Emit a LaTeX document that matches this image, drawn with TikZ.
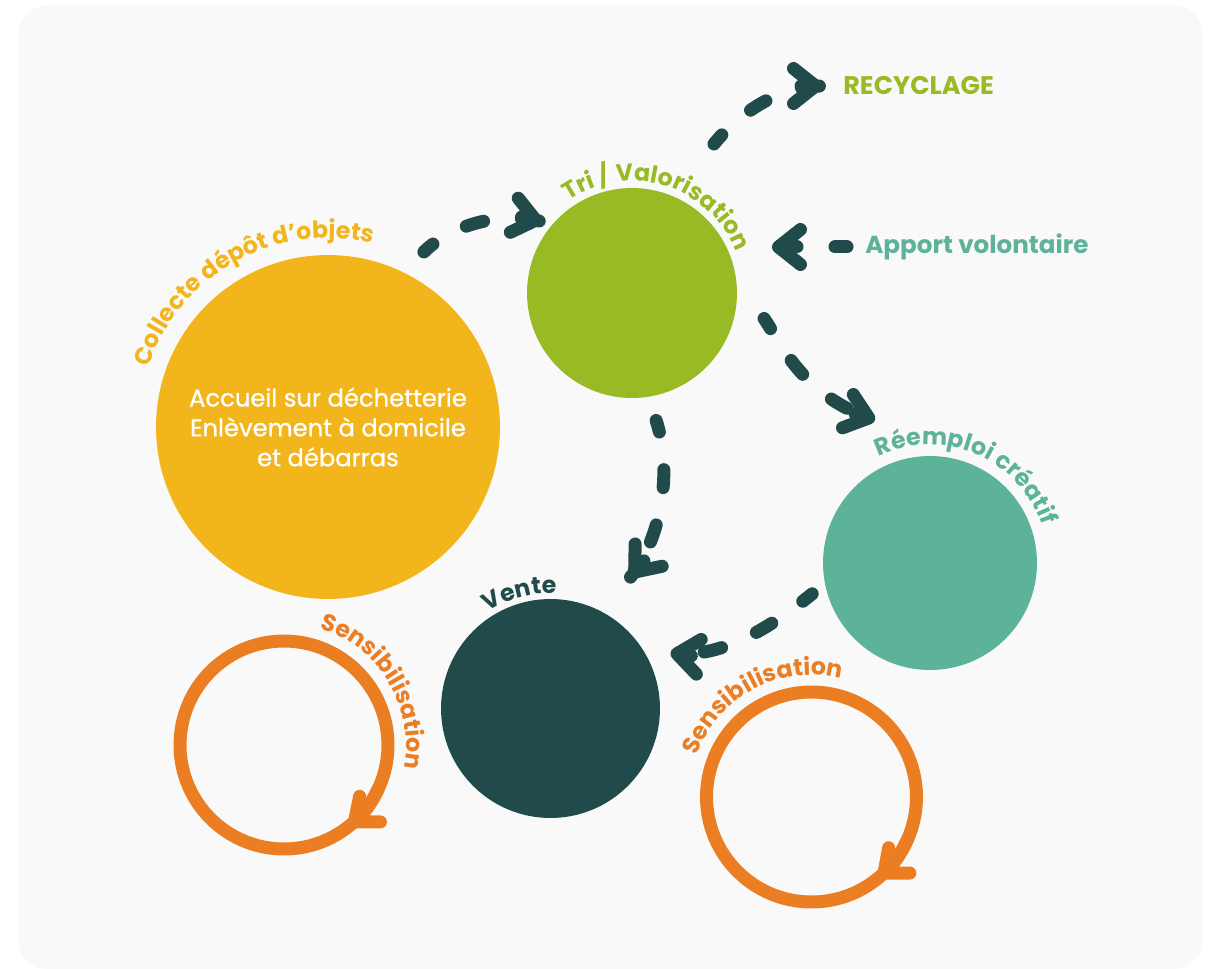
\documentclass[tikz,border=0pt]{standalone}
\usepackage{fontspec}
\setmainfont{Poppins}
\newfontfamily\poppinsmoyen{Poppins}[FakeBold=0.8]
\usepackage{xcolor}
\usepackage{tikz}
\usetikzlibrary{arrows.meta, decorations.text, decorations.markings, calc}
\definecolor{fondgris}{RGB}{249, 249, 249}
\definecolor{collecteor}{RGB}{242, 181, 28}
\definecolor{trivert}{RGB}{152, 186, 37}
\definecolor{reemploivert}{RGB}{93, 178, 154}
\definecolor{ventevert}{RGB}{33, 75, 74}
\definecolor{sensiorange}{RGB}{235, 125, 35}
\newcommand{\arcfont}{\fontsize{13.5}{15}\selectfont\bfseries}

\begin{document}
\begin{tikzpicture}[
  x=0.02cm, y=0.02cm,
  bulle/.style={circle, inner sep=0pt, outer sep=0pt},
  anneau/.style={circle, draw=sensiorange, line width=0.26cm, inner sep=0pt, outer sep=0pt},
  fleche/.style={ventevert, line width=0.26cm, line cap=round,
    dash pattern=on 0.36cm off 0.76cm, dash phase=0.12cm, shorten >=#1,
    postaction={decorate, decoration={markings, mark=at position 0.9999 with {
      \draw[solid, shorten >=0pt, shorten <=0pt, line cap=round,
        -{Straight Barb[length=0.44cm, width=0.7cm, round]}]
        (-#1-0.42cm,0) -- (-#1,0);}}}},
  boucle/.style={sensiorange, line width=0.26cm, line cap=round,
    -{Straight Barb[length=0.4cm, width=0.66cm, round]}},
  etiquette/.style={inner sep=0pt, anchor=west},
  arctexte/.style={decorate, decoration={text along path, text align=center, text={#1}}}
]

% Fond
\useasboundingbox (0,0) rectangle (1213,-969);
\fill[white] (0,0) rectangle (1213,-969);
\fill[fondgris, rounded corners=0.6cm] (18,-5) rectangle (1203,-969);

% Cercles
\node[bulle, fill=collecteor, minimum size=6.88cm, text=white, align=center,
  font=\poppinsmoyen\fontsize{13.8}{17}\selectfont] (collecte) at (328,-427)
  {Accueil sur déchetterie\\Enlèvement à domicile\\et débarras};
\node[bulle, fill=trivert, minimum size=4.2cm] (tri) at (632,-293) {};
\node[bulle, fill=reemploivert, minimum size=4.28cm] (reemploi) at (930,-563) {};
\node[bulle, fill=ventevert, minimum size=4.38cm] (vente) at (550.5,-708.5) {};

% Anneaux
\node[anneau, minimum size=4.16cm] (sensiG) at (284,-745) {};
\node[anneau, minimum size=4.2cm] (sensiD) at (811.5,-797) {};

% Etiquettes
\node[etiquette, text=trivert, font=\fontsize{14.5}{16}\selectfont\bfseries] (recyclage) at (843,-86) {RECYCLAGE};
\node[etiquette, text=reemploivert, font=\fontsize{14}{16}\selectfont\bfseries] (apport) at (865,-247) {Apport volontaire};
\coordinate (creatif) at (875,-420);

% Textes en arc
\path[arctexte={|\arcfont\color{collecteor}|Collecte dépôt d’objets}]
  ($(collecte)+(189:189)$) arc[start angle=189, end angle=49, radius=189];
\path[arctexte={|\arcfont\color{trivert}|Tri / Valorisation}]
  ($(tri)+(153:112)$) arc[start angle=153, end angle=-7, radius=112];
\path[arctexte={|\arcfont\color{reemploivert}|Réemploi créatif}]
  ($(reemploi)+(157:118)$) arc[start angle=157, end angle=-23, radius=118];
\path[arctexte={|\arcfont\color{ventevert}|Vente}]
  ($(vente)+(165:115)$) arc[start angle=165, end angle=45, radius=115];
\path[arctexte={|\arcfont\color{sensiorange}|Sensibilisation}]
  ($(sensiG)+(121:122)$) arc[start angle=121, end angle=-59, radius=122];
\path[arctexte={|\arcfont\color{sensiorange}|Sensibilisation}]
  ($(sensiD)+(208:122)$) arc[start angle=208, end angle=28, radius=122];

% Fleches
\draw[fleche=0.22cm, shorten <=0.58cm] (collecte.64) to[out=45, in=167] (tri.139);
\draw[fleche=0.42cm, shorten <=1.33cm] (tri.67) to[out=52, in=180] (recyclage.west);
\draw[fleche=0.7cm, shorten <=0.36cm] (apport.west) -- (apport.west -| tri.east);
\draw[fleche=0cm, shorten <=0.98cm] (tri.8) to[out=-55, in=162] (creatif);
\draw[fleche=0.9cm, shorten <=0.5cm] (tri.-81) to[out=-72, in=50.5] (vente.62);
\draw[fleche=0.57cm, shorten <=0.33cm] (reemploi.191) to[out=219, in=-8] (vente.33);

% Boucles
\draw[boucle] (sensiG.-25) arc[start angle=-25, end angle=-51, radius=104];
\draw[boucle] (sensiD.-24) arc[start angle=-24, end angle=-50, radius=105];

\end{tikzpicture}
\end{document}
